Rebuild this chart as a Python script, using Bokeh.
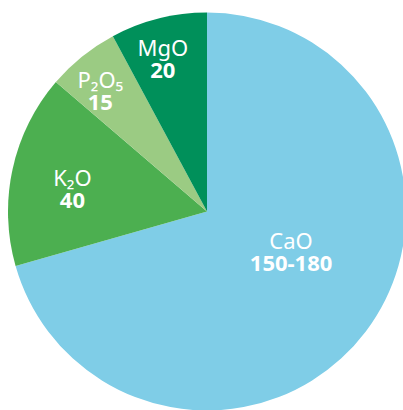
import numpy as np
from bokeh.plotting import figure
from bokeh.models import ColumnDataSource, Range1d
from bokeh.core.properties import value
from bokeh.embed import file_html
from bokeh.resources import INLINE

# ---- data ----
names = ["CaO", "K\u2082O", "P\u2082O\u2085", "MgO"]
amounts = [180, 40, 15, 20]
amount_labels = ["150-180", "40", "15", "20"]
colors = ["#7FCDE7", "#4CAF50", "#9BCB83", "#00905A"]

# ---- layout ----
W, H = 403, 410
cx, cy, R = 206.5, 199.0, 199.0
label_rfrac = [0.468, 0.686, 0.81, 0.80]
label_dang = [-11.6, -2.8, -2.6, -2.0]  # degrees, clockwise offset

vals = np.array(amounts, dtype=float)
frac = vals / vals.sum()
cum = np.concatenate([[0.0], np.cumsum(frac)]) * 2 * np.pi
# clockwise from 12 o'clock; bokeh angles counterclockwise from +x
start = np.pi / 2 - cum[:-1]
end = np.pi / 2 - cum[1:]
mid_cw = (cum[:-1] + cum[1:]) / 2 + np.radians(label_dang)
lr = np.array(label_rfrac) * R
lx = cx + lr * np.sin(mid_cw)
ly = cy + lr * np.cos(mid_cw)

src = ColumnDataSource(dict(start=start, end=end, color=colors,
                            x=[cx] * 4, y=[cy] * 4,
                            lx=lx, ly=ly, name=names, amt=amount_labels))

p = figure(width=W, height=H, output_backend="svg", toolbar_location=None,
           x_range=Range1d(0, W), y_range=Range1d(0, H),
           min_border=0, outline_line_color=None)
p.axis.visible = False
p.grid.visible = False
p.background_fill_color = "white"
p.border_fill_color = "white"

p.wedge(x="x", y="y", radius=R, start_angle="start", end_angle="end",
        direction="clock", fill_color="color", line_color=None, source=src)

p.text(x="lx", y="ly", text="name", source=src, text_color="white",
       text_font=value("Noto Sans"), text_font_size="22px",
       text_align="center", text_baseline="middle", y_offset=-12)
p.text(x="lx", y="ly", text="amt", source=src, text_color="white",
       text_font=value("Noto Sans"), text_font_style="bold",
       text_font_size="22px",
       text_align="center", text_baseline="middle", y_offset=12)

open("out.html", "w").write(file_html(p, INLINE))
